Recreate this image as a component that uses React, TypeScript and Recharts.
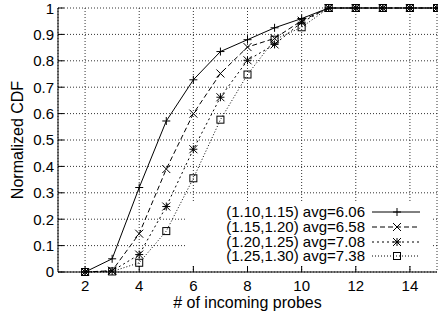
import React from 'react'
import { LineChart, Line, XAxis, YAxis, CartesianGrid } from 'recharts'

// # of incoming probes
const probes = [2, 3, 4, 5, 6, 7, 8, 9, 10, 11, 12, 13, 14, 15]

// normalized CDF per (ratio range) bucket
const cdf110 = [0, 0.05, 0.32, 0.572, 0.728, 0.835, 0.88, 0.925, 0.96, 1, 1, 1, 1, 1]
const cdf115 = [0, 0.005, 0.145, 0.39, 0.6, 0.752, 0.852, 0.885, 0.952, 1, 1, 1, 1, 1]
const cdf120 = [0, 0.004, 0.066, 0.248, 0.465, 0.662, 0.802, 0.862, 0.946, 1, 1, 1, 1, 1]
const cdf125 = [0, 0.002, 0.035, 0.155, 0.355, 0.577, 0.748, 0.88, 0.927, 1, 1, 1, 1, 1]

const seriesNames = [
  '(1.10,1.15) avg=6.06',
  '(1.15,1.20) avg=6.58',
  '(1.20,1.25) avg=7.08',
  '(1.25,1.30) avg=7.38'
]

const xTicks = [2, 4, 6, 8, 10, 12, 14]
const yTicks = [0, 0.1, 0.2, 0.3, 0.4, 0.5, 0.6, 0.7, 0.8, 0.9, 1]

const data = probes.map((p, i) => ({
  probes: p,
  a: cdf110[i],
  b: cdf115[i],
  c: cdf120[i],
  d: cdf125[i]
}))

type Kind = 'plus' | 'cross' | 'star' | 'square'

const series: { key: string; kind: Kind; dash?: string }[] = [
  { key: 'a', kind: 'plus' },
  { key: 'b', kind: 'cross', dash: '5 3' },
  { key: 'c', kind: 'star', dash: '2 3' },
  { key: 'd', kind: 'square', dash: '1 2' }
]

const Marker = ({ cx, cy, kind }: { cx: number; cy: number; kind: Kind }) => {
  const r = 4
  const s = { stroke: '#000', strokeWidth: 1, fill: 'none' }
  if (kind === 'square') {
    return <rect x={cx - 3.5} y={cy - 3.5} width={7} height={7} {...s} />
  }
  const plus = `M${cx - r},${cy}H${cx + r}M${cx},${cy - r}V${cy + r}`
  const cross = `M${cx - r},${cy - r}L${cx + r},${cy + r}M${cx - r},${cy + r}L${cx + r},${cy - r}`
  const d = kind === 'plus' ? plus : kind === 'cross' ? cross : plus + cross
  return <path d={d} {...s} />
}

const yTickFmt = (v: number) => (v === 0 || v === 1 ? String(v) : v.toFixed(1))

const YLabel = ({ viewBox }: any) => {
  const cx = viewBox.x + 17.5
  const cy = viewBox.y + viewBox.height / 2
  return (
    <text x={cx} y={cy} transform={`rotate(-90 ${cx} ${cy})`} textAnchor="middle"
      dominantBaseline="central" fontSize={16} fill="#000">
      Normalized CDF
    </text>
  )
}

const XLabel = ({ viewBox }: any) => (
  <text x={viewBox.x + viewBox.width / 2} y={viewBox.y + 36} textAnchor="middle" fontSize={16} fill="#000">
    # of incoming probes
  </text>
)

const KeyBox = () => (
  <div style={{
    position: 'absolute', left: 187, top: 203, width: 244, height: 62,
    background: '#fff', paddingTop: 2, boxSizing: 'border-box'
  }}>
    {series.map((s, i) => (
      <div key={s.key} style={{ display: 'flex', alignItems: 'center', height: 14.7 }}>
        <div style={{ width: 178, textAlign: 'right', fontSize: 15, lineHeight: '14px', whiteSpace: 'nowrap' }}>
          {seriesNames[i]}
        </div>
        <svg width={48} height={12} style={{ marginLeft: 7 }}>
          <line x1={0} y1={6} x2={48} y2={6} stroke="#000" strokeDasharray={s.dash} />
          <Marker cx={25} cy={6} kind={s.kind} />
        </svg>
      </div>
    ))}
  </div>
)

export default function App() {
  const tickStyle = { fontSize: 15, fill: '#000' }
  return (
    <div style={{ position: 'absolute', left: 0, top: 0, width: 438, height: 318, background: '#fff', fontFamily: '"Liberation Sans", Arial, sans-serif' }}>
      <LineChart width={438} height={318} data={data} margin={{ top: 8, right: 1, left: 0, bottom: 0 }}>
        <CartesianGrid stroke="#333" strokeDasharray="1 2" />
        <XAxis dataKey="probes" type="number" domain={[1, 15]} ticks={xTicks} height={46}
          tick={tickStyle} tickSize={-6} tickMargin={14} stroke="#000"
          label={<XLabel />} />
        <XAxis xAxisId="top" orientation="top" type="number" domain={[1, 15]} ticks={xTicks}
          height={0} tick={false} tickSize={-6} stroke="#000" />
        <YAxis type="number" domain={[0, 1]} ticks={yTicks} width={58} tickFormatter={yTickFmt}
          tick={tickStyle} tickSize={-6} tickMargin={10} stroke="#000"
          label={<YLabel />} />
        <YAxis yAxisId="right" orientation="right" type="number" domain={[0, 1]} ticks={yTicks}
          width={0} tick={false} tickSize={-6} stroke="#000" />
        {series.map(s => (
          <Line key={s.key} dataKey={s.key} type="linear" stroke="#000" strokeWidth={1}
            strokeDasharray={s.dash} isAnimationActive={false}
            dot={(p: any) => <Marker key={`${s.key}-${p.index}`} cx={p.cx} cy={p.cy} kind={s.kind} />} />
        ))}
      </LineChart>
      <KeyBox />
    </div>
  )
}
